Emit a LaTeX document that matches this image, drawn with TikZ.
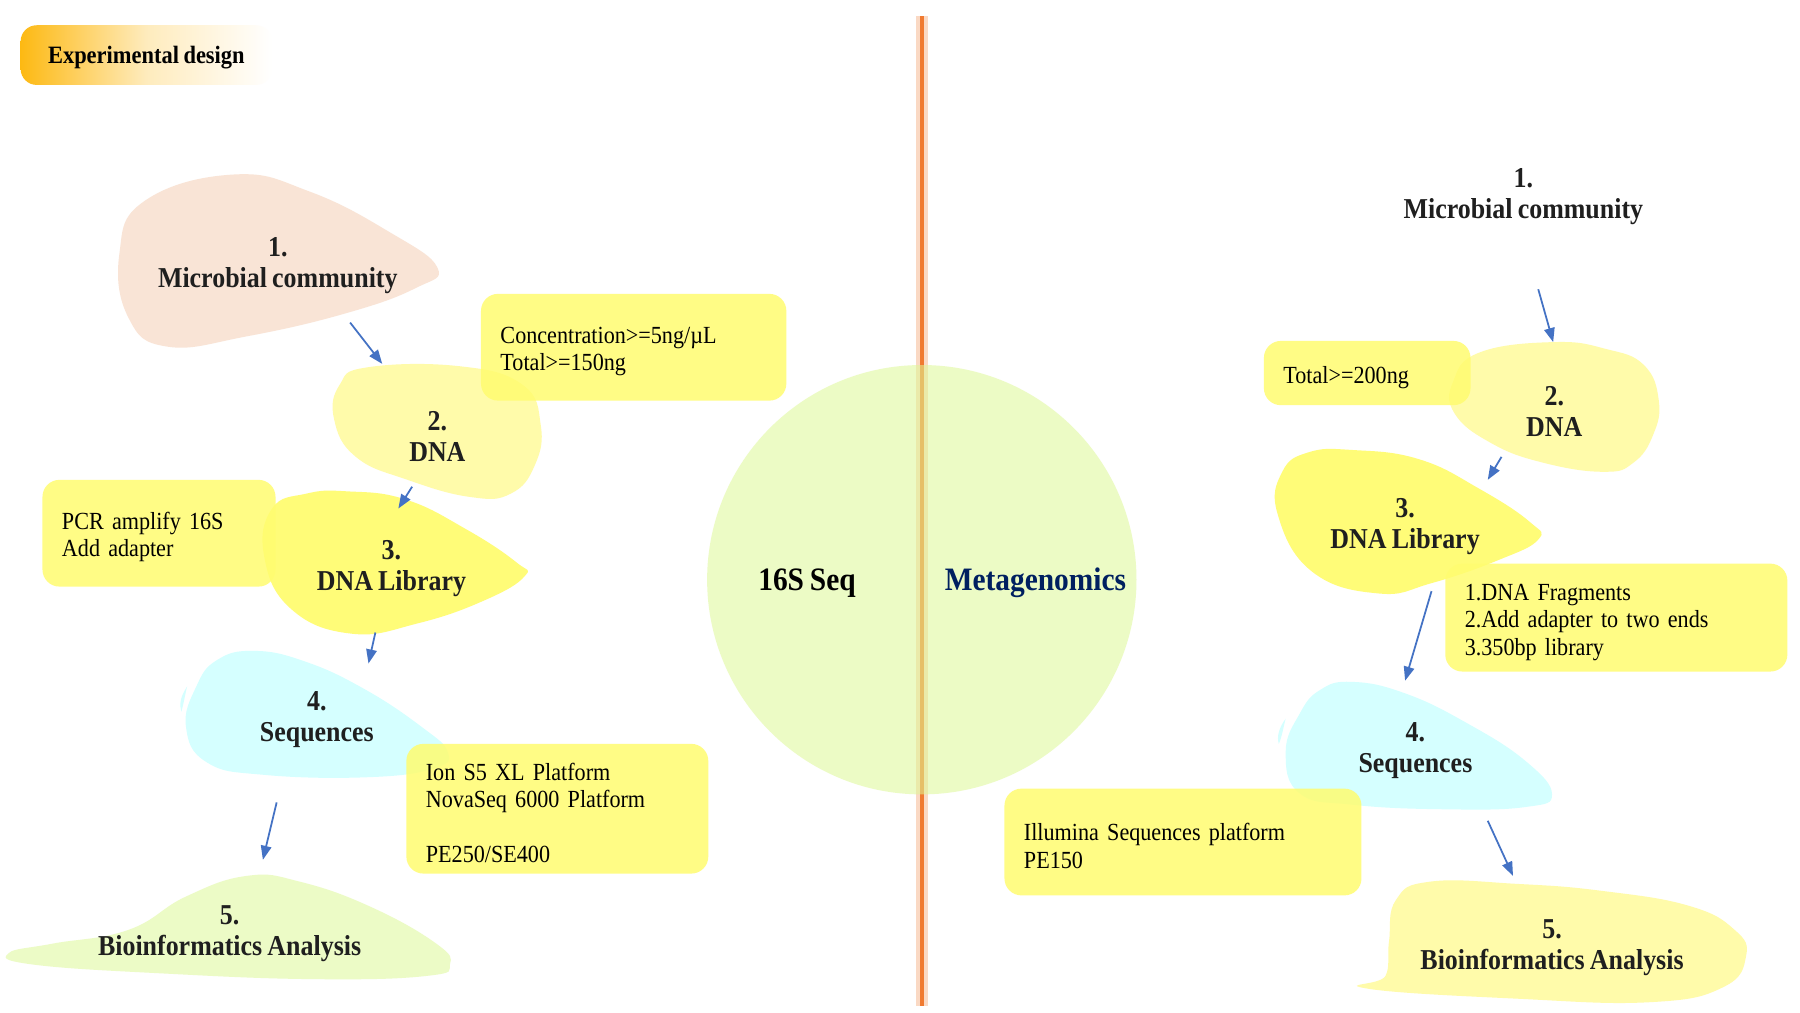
\documentclass[tikz,border=0pt]{standalone}
\usepackage{fontspec}
\setmainfont{Liberation Serif}[FakeStretch=0.9,WordSpace=0.8]
\usepackage{tikz}
\usetikzlibrary{arrows.meta,positioning}
\usepackage{xcolor}
\definecolor{peach}{RGB}{249,228,214}
\definecolor{paleyellow}{RGB}{255,251,170}
\definecolor{libyellow}{RGB}{255,252,120}
\definecolor{seqcyan}{RGB}{213,255,255}
\definecolor{palegreen}{RGB}{236,251,198}
\definecolor{discgreen}{RGB}{222,248,150}
\definecolor{notefill}{RGB}{255,252,112}
\definecolor{flowblue}{RGB}{68,114,196}
\definecolor{splitorange}{RGB}{240,122,48}
\definecolor{titleorange}{RGB}{253,185,19}
\definecolor{metanavy}{RGB}{0,32,96}

\begin{document}
\begin{tikzpicture}[x=0.1148mm,y=-0.1148mm,
    stepname/.style={align=center,inner sep=0pt,text=black!88,
      font=\bfseries\fontsize{8.2}{8.8}\selectfont},
    note/.style 2 args={rectangle,rounded corners=1.7mm,fill=notefill,
      fill opacity=0.85,text opacity=1,inner xsep=1.95mm,inner ysep=0pt,
      minimum width=#1*0.1148mm,minimum height=#2*0.1148mm,
      text width=#1*0.1148mm-3.9mm,align=left,
      font=\fontsize{7}{7.8}\selectfont,
      execute at begin node={\rule{0pt}{7.2pt}}},
    flow/.style={-{Triangle[length=4pt,width=3pt]},flowblue,line width=0.5pt},
    blob/.style={smooth cycle,tension=0.75}]
  \useasboundingbox (0,0) rectangle (1568,882);
  \fill[white] (0,0) rectangle (1568,882);

  % divider and centre disc
  \draw[splitorange!40,line width=3.4pt,opacity=0.7] (803,14) -- (803,876);
  \draw[splitorange,line width=1.1pt] (803,14) -- (803,876);
  \fill[discgreen,fill opacity=0.55] (803,505) circle[radius=21.47mm];
  \node[font=\bfseries\fontsize{9.3}{10}\selectfont] (seq16) at (703,508) {16S Seq};
  \node[font=\bfseries\fontsize{9.3}{10}\selectfont,text=metanavy] (meta) at (902,508) {Metagenomics};

  \node[rounded corners=1.6mm,left color=titleorange,right color=white,
    middle color=titleorange!28,minimum width=219*0.1148mm,
    minimum height=52*0.1148mm,text depth=0pt,
    font=\bfseries\fontsize{7.1}{8}\selectfont]
    (title) at (127.5,48) {Experimental design};

  % left column blobs
  \fill[peach] plot[blob] coordinates {(204,152) (270,167) (339,202) (381,233)
    (362,251) (301,273) (215,293) (146,302) (112,277) (104,221) (126,175)};
  \fill[paleyellow] plot[blob] coordinates {(320,320) (400,319) (455,335) (471,370)
    (466,405) (445,430) (410,433) (355,418) (310,398) (291,365) (296,335)};
  \fill[libyellow] plot[blob] coordinates {(302,428) (353,435) (406,461) (450,490)
    (457,502) (422,523) (364,543) (306,552) (253,530) (230,484) (237,443) (267,430)};
  \fill[seqcyan] plot[blob] coordinates {(221,567) (265,576) (317,600) (367,633)
    (390,655) (379,669) (322,677) (230,675) (180,664) (162,633) (171,598) (189,575)};
  \fill[seqcyan] (163,598) .. controls (157,607) and (156,614) .. (158,620)
    .. controls (160,613) and (161,606) .. (163,598);
  \fill[palegreen] plot[blob] coordinates {(215,763) (261,768) (323,790) (380,822)
    (392,840) (373,850) (277,853) (142,848) (27,840) (8,830) (46,822) (112,810) (162,781)};

  % right column blobs
  \fill[paleyellow] plot[blob] coordinates {(1354,298) (1399,304) (1432,318) (1445,349)
    (1440,379) (1423,403) (1397,411) (1344,403) (1299,386) (1267,360) (1266,332) (1289,307)};
  \fill[libyellow] plot[blob] coordinates {(1178,392) (1236,400) (1289,426) (1333,455)
    (1340,470) (1305,488) (1247,508) (1201,517) (1143,498) (1113,448) (1117,411) (1140,394)};
  \fill[seqcyan] plot[blob] coordinates {(1178,594) (1224,604) (1278,630) (1329,663)
    (1352,692) (1329,703) (1259,705) (1178,701) (1132,691) (1120,655) (1132,622) (1150,601)};
  \fill[seqcyan] (1120,626) .. controls (1114,634) and (1112,642) .. (1114,648)
    .. controls (1117,641) and (1118,633) .. (1120,626);
  \fill[paleyellow] plot[blob] coordinates {(1246,768) (1322,770) (1395,776) (1471,789)
    (1511,810) (1521,833) (1501,860) (1438,873) (1322,870) (1190,861) (1207,850)
    (1210,820) (1216,784)};

  % notes
  \node[note={266}{93}] (nconc) at (552,302.5) {Concentration>=5ng/µL\\Total>=150ng};
  \node[note={203}{93}] (npcr) at (138.5,464.5) {PCR amplify 16S\\Add adapter};
  \node[note={263}{113}] (nion) at (485.5,704.5)
    {Ion S5 XL Platform\\NovaSeq 6000 Platform\\[7.8pt]PE250/SE400};
  \node[note={180}{56}] (ntot) at (1191,325) {Total>=200ng};
  \node[note={298}{94}] (nfrag) at (1408,538)
    {1.DNA Fragments\\2.Add adapter to two ends\\3.350bp library};
  \node[note={311}{93}] (nillu) at (1030.5,733.5) {Illumina Sequences platform\\PE150};

  % step labels
  \node[stepname] (l1) at (242,231.5) {1.\\Microbial community};
  \node[stepname] (l2) at (381,380.5) {2.\\DNA};
  \node[stepname] (l3) at (341,495.5) {3.\\DNA Library};
  \node[stepname] (l4) at (276,626.5) {4.\\Sequences};
  \node[stepname] (l5) at (200,813.5) {5.\\Bioinformatics Analysis};
  \node[stepname] (r1) at (1327,171.5) {1.\\Microbial community};
  \node[stepname] (r2) at (1354,358.5) {2.\\DNA};
  \node[stepname] (r3) at (1224,459) {3.\\DNA Library};
  \node[stepname] (r4) at (1233,654) {4.\\Sequences};
  \node[stepname] (r5) at (1352,825.5) {5.\\Bioinformatics Analysis};

  % arrows
  \coordinate (l1o) at (305,281); \coordinate (l2i) at (333,317);
  \coordinate (l2o) at (359,424); \coordinate (l3i) at (347,443);
  \coordinate (l3o) at (327,551); \coordinate (l4i) at (321,578);
  \coordinate (l4o) at (241,699); \coordinate (l5i) at (229,749);
  \coordinate (r1o) at (1340,252); \coordinate (r2i) at (1353,298);
  \coordinate (r2o) at (1308,398); \coordinate (r3i) at (1296,418);
  \coordinate (r3o) at (1247,515); \coordinate (r4i) at (1224,593);
  \coordinate (r4o) at (1296,715); \coordinate (r5i) at (1318,763);
  \foreach \a/\b in {l1o/l2i,l2o/l3i,l3o/l4i,l4o/l5i,r1o/r2i,r2o/r3i,r3o/r4i,r4o/r5i}
    \draw[flow] (\a) -- (\b);
\end{tikzpicture}
\end{document}
